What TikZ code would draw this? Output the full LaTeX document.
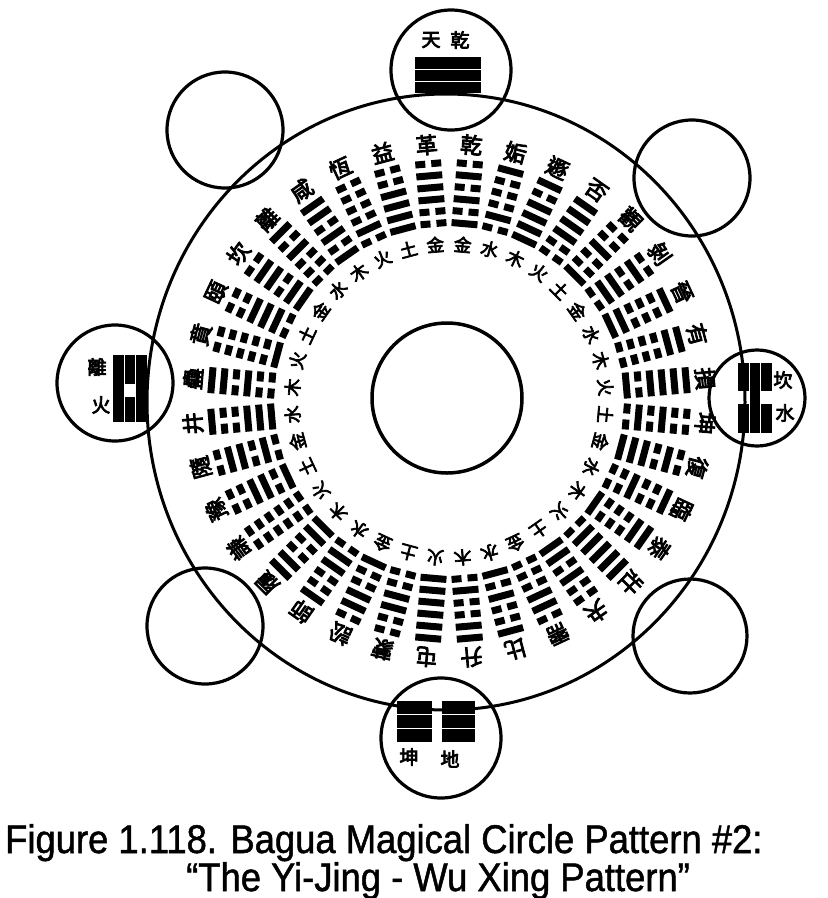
\documentclass[tikz,border=0pt]{standalone}
\usepackage{fontspec}
\setmainfont{Liberation Sans}
\newfontfamily\capfont{Liberation Sans}[FakeStretch=0.91,FakeBold=1.2]
\newfontfamily\cjk{Noto Sans CJK TC}[FakeBold=4]
\begin{document}
\begin{tikzpicture}[x=1pt,y=-1pt,
  ring/.style={circle, draw, line width=3.2pt, inner sep=0pt},
  glyph/.style={font=\cjk\fontsize{22}{22}\selectfont, inner sep=0pt},
  iglyph/.style={font=\cjk\fontsize{17.5}{17.5}\selectfont, inner sep=0pt},
  cglyph/.style={font=\cjk\fontsize{19}{19}\selectfont, inner sep=0pt},
  capt/.style={font=\capfont\fontsize{40}{40}\selectfont, inner sep=0pt, anchor=base west}]
\useasboundingbox (0,0) rectangle (828,898);
% outer big circle and inner circle
\draw[line width=3pt] (446,402) ellipse [x radius=299, y radius=308];
\node[ring, line width=3.5pt, minimum size=150] (inner) at (447,398) {};
% eight small circles
\node[ring, minimum size=120] (cN) at (451,70) {};
\node[ring, minimum size=116] (cNW) at (225,130) {};
\node[ring, minimum size=116] (cNE) at (692,178) {};
\node[ring, minimum size=116] (cW) at (115,383) {};
\node[ring, minimum size=96] (cE) at (757,398) {};
\node[ring, minimum size=116] (cSW) at (205,626) {};
\node[ring, minimum size=114] (cSE) at (690,636) {};
\node[ring, minimum size=120] (cS) at (441,738) {};
% top: Qian
\node[cglyph] (tN1) at (431,40) {天};
\node[cglyph] (tN2) at (460,40) {乾};
\fill (415,57) rectangle (481,68.5);
\fill (415,69.5) rectangle (481,81);
\fill (415,82) rectangle (481,93);
% bottom: Kun
\foreach \yy in {701,715,729}{
  \fill (397,\yy) rectangle (432,\yy+13);
  \fill (442,\yy) rectangle (475,\yy+13);
}
\node[cglyph] (tS1) at (409,757) {坤};
\node[cglyph] (tS2) at (450,759) {地};
% left: Li
\fill (113,355) rectangle (124,422);
\fill (125,355) rectangle (135,384);
\fill (125,397) rectangle (135,422);
\fill (136,355) rectangle (147,422);
\node[cglyph] (tW1) at (97,367) {離};
\node[cglyph] (tW2) at (101,405) {火};
% right: Kan
\fill (738,363) rectangle (749,391);
\fill (738,404) rectangle (749,433);
\fill (750,363) rectangle (760,433);
\fill (761,363) rectangle (772,391);
\fill (761,404) rectangle (772,433);
\node[cglyph] (tE1) at (783,380) {坎};
\node[cglyph] (tE2) at (785,413) {水};
% radial spokes
\begin{scope}[shift={(449,401)}, y=1pt]
\foreach \k/\o/\i in {0/乾/金,1/姤/水,2/遯/木,3/否/火,4/觀/土,5/剝/金,6/晉/水,7/有/木,8/損/火,
                      9/坤/土,10/復/金,11/臨/水,12/泰/木,13/壯/火,14/夬/土,15/需/金,16/比/水,17/升/木,
                      18/屯/火,19/蒙/土,20/訟/金,21/師/水,22/履/木,23/謙/火,24/豫/土,25/隨/金,26/井/水,
                      27/蠱/木,28/賁/火,29/頤/土,30/坎/金,31/離/水,32/咸/木,33/恆/火,34/益/土,35/革/金}{
  \pgfmathsetmacro\a{90-5-10*\k}
  \pgfmathtruncatemacro\n{mod(\k*13+21,64)}
  \begin{scope}[rotate=\a-90]
    \node[glyph, rotate=\a-90] (out\k) at (0,257) {\o};
    \foreach \j in {0,...,5}{
      \pgfmathtruncatemacro\b{mod(floor(\n/2^\j),2)}
      \pgfmathsetmacro\r{178+\j*12}
      \ifnum\b=1
        \fill (-13,\r-3.5) rectangle (13,\r+3.5);
      \else
        \fill (-13,\r-3.5) rectangle (-3,\r+3.5);
        \fill (3,\r-3.5) rectangle (13,\r+3.5);
      \fi
    }
    \node[iglyph, rotate=\a-90] (in\k) at (0,157) {\i};
  \end{scope}
}
\end{scope}
% caption
\node[capt] (cap1) at (5,853) {Figure 1.118. Bagua Magical Circle Pattern \#2:};
\node[capt] (cap2) at (186,891) {“The Yi-Jing - Wu Xing Pattern”};
\end{tikzpicture}
\end{document}
